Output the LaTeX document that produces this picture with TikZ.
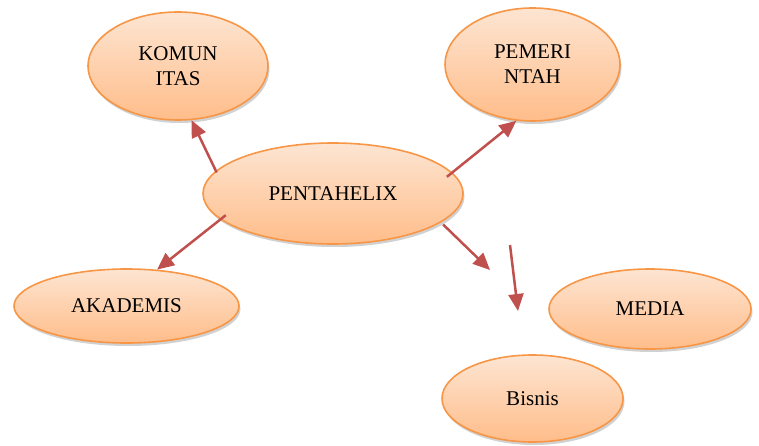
\documentclass[tikz,border=0pt]{standalone}
\usepackage{fontspec}
\setmainfont{Liberation Serif}
\usetikzlibrary{shapes.geometric,arrows.meta,shadows}
\definecolor{ovtop}{RGB}{253,229,210}
\definecolor{ovbot}{RGB}{255,189,138}
\definecolor{ovline}{RGB}{247,150,70}
\definecolor{arr}{RGB}{192,80,77}
\tikzset{
  oval/.style={ellipse, draw=ovline, line width=1.6pt, top color=ovtop, bottom color=ovbot,
    inner sep=0pt, align=center, font=\fontsize{21}{25}\selectfont,
    drop shadow={opacity=0.3, shadow xshift=1.5pt, shadow yshift=-3pt, fill=black!60}},
  link/.style={draw=arr, line width=2.5pt, -{Triangle[length=17pt,width=15pt]}}
}
\begin{document}
\begin{tikzpicture}[x=1pt,y=-1pt]
\useasboundingbox (0,0) rectangle (759,446);
\node[oval, minimum width=180pt, minimum height=108pt] (kom) at (178,66) {KOMUN\\ITAS};
\node[oval, minimum width=175pt, minimum height=113pt] (pem) at (532.5,64.5) {PEMERI\\NTAH};
\node[oval, minimum width=260pt, minimum height=101pt] (pen) at (333,193.5) {PENTAHELIX};
\node[oval, minimum width=225pt, minimum height=74pt] (aka) at (126.5,306) {AKADEMIS};
\node[oval, minimum width=202pt, minimum height=80pt] (med) at (650,309) {MEDIA};
\node[oval, minimum width=181pt, minimum height=87pt] (bis) at (532.5,398.5) {Bisnis};
\coordinate (free1) at (490,270);
\coordinate (free2s) at (510,245);
\coordinate (free2e) at (518,311);
\draw[link, shorten <=-2pt] (pen.169.8) -- (kom.284);
\draw[link, shorten <=-7pt] (pen.10.5) -- (pem.254.7);
\draw[link, shorten <=-7pt] (pen.193.7) -- (aka.50.5);
\draw[link, shorten <=3pt] (pen.345) -- (free1);
\draw[link] (free2s) -- (free2e);
\end{tikzpicture}
\end{document}
